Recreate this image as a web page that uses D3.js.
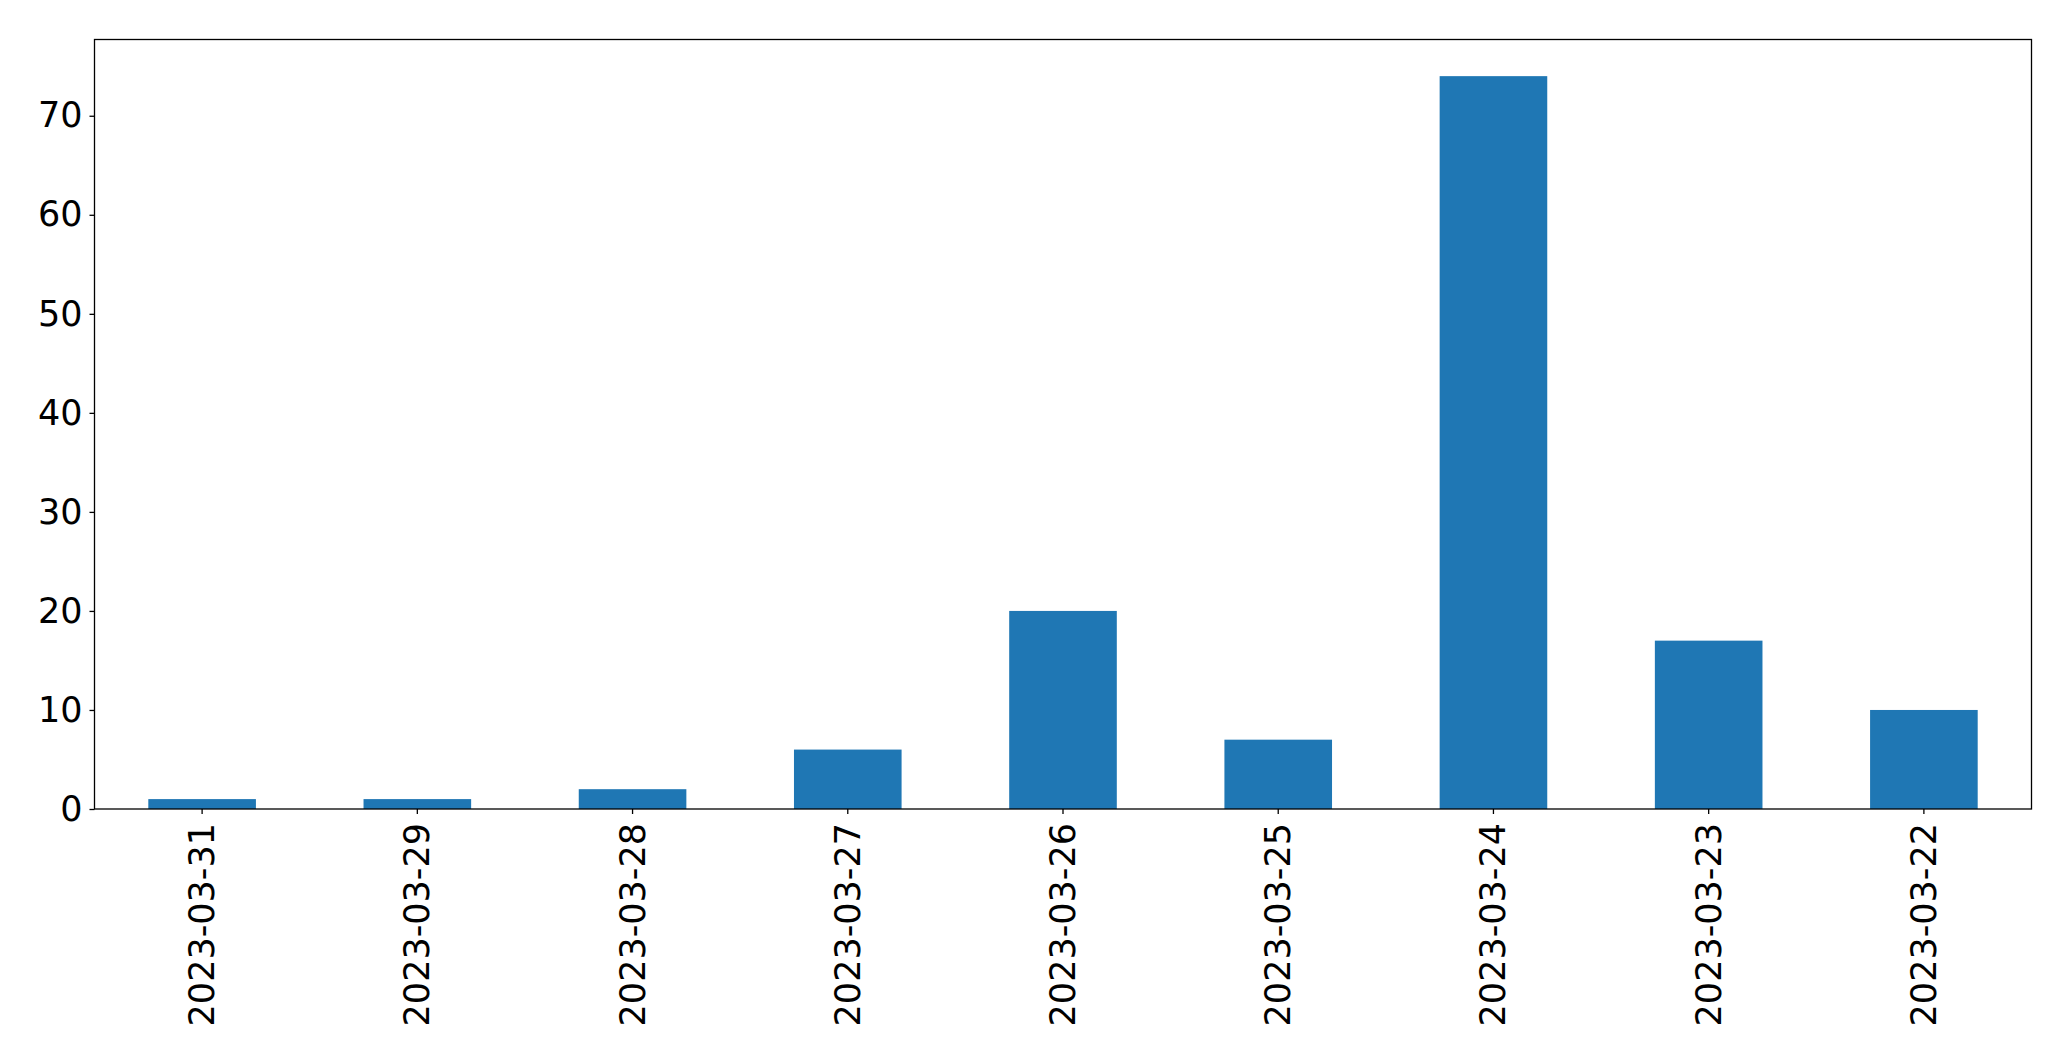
<!DOCTYPE html>
<html><head><meta charset="utf-8">
<script src="https://cdn.jsdelivr.net/npm/d3@7"></script>
<style>html,body{margin:0;padding:0;background:#fff;}</style>
</head><body>
<script>
const categories = ["2023-03-31","2023-03-29","2023-03-28","2023-03-27","2023-03-26","2023-03-25","2023-03-24","2023-03-23","2023-03-22"];
const values = [1,1,2,6,20,7,74,17,10];
const yTicks = [0,10,20,30,40,50,60,70];

const W = 2071, H = 1061;
const m = {left: 94.5, top: 39.5, right: 2071 - 2031.5, bottom: 1061 - 809};
const svg = d3.select("body").append("svg").attr("width", W).attr("height", H);
const iw = W - m.left - m.right, ih = H - m.top - m.bottom;
const g = svg.append("g").attr("transform", `translate(${m.left},${m.top})`);

const x = d3.scaleBand().domain(categories).range([0, iw]).paddingInner(0.5).paddingOuter(0.25);
const y = d3.scaleLinear().domain([0, d3.max(values) * 1.05]).range([ih, 0]);

g.selectAll("rect.bar").data(values).enter().append("rect")
  .attr("class","bar")
  .attr("x", (d,i) => x(categories[i]))
  .attr("width", x.bandwidth())
  .attr("y", d => y(d))
  .attr("height", d => ih - y(d))
  .attr("fill", "#1f77b4");

const font = "DejaVu Sans";
const fs = 35;

const yAxis = g.append("g").call(d3.axisLeft(y).tickValues(yTicks).tickSize(5).tickPadding(7).tickFormat(d3.format("d")));
yAxis.select(".domain").remove();
yAxis.selectAll("text").attr("font-family", font).attr("font-size", fs).attr("fill","#000");
yAxis.selectAll("line").attr("stroke","#000").attr("stroke-width",1.3);

const xAxis = g.append("g").attr("transform", `translate(0,${ih})`).call(d3.axisBottom(x).tickSize(5).tickPadding(0));
xAxis.select(".domain").remove();
xAxis.selectAll("line").attr("stroke","#000").attr("stroke-width",1.3);
xAxis.selectAll("text")
  .attr("font-family", font).attr("font-size", fs).attr("fill","#000")
  .attr("text-anchor","end")
  .attr("dy", null).attr("y", 0).attr("x", 0)
  .attr("dominant-baseline","central")
  .attr("transform", "translate(0,14) rotate(-90)");

g.append("rect").attr("x",0).attr("y",0).attr("width",iw).attr("height",ih)
  .attr("fill","none").attr("stroke","#000").attr("stroke-width",1.3);
</script>
</body></html>
